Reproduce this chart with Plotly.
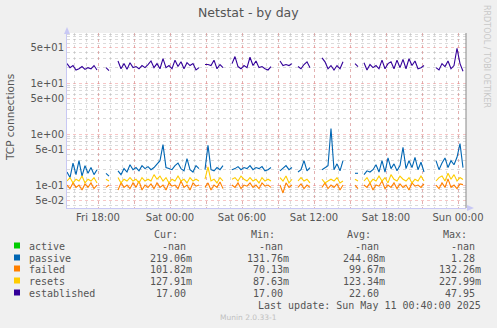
import pandas as pd
import plotly.graph_objects as go

# ---------------- data ----------------
start_time = "2025-05-09 15:25"
step = "15min"

established = [24, 20, 22, 18, 19, 21, 18.5, 20, 19, 22, 18, None, None, 20, 17.5, None, None,
               27, 19, 24, 18.5, 25, 20, 21, 19, 22, 20, 23, 27, 20, 24, 19, 30, 20, 22, 19, 28,
               21, 26, 19, 25, 22, 24, 18, 20, None, 23, 23, 22, 28, 19, 23, 20, None, None, 24,
               33, 21, 19, 22, 20, 32, 22, 27, 20, 21, 19, 18, 21, None, None, 27, 22, 23, 22, 24,
               None, 21, 19, 23, 26, 20, None, 28, None, 31, 26, 19, 22, 18, 22, 19, 26, None, 22,
               None, 24, 21, None, 25, 18, 23, 20, 22, 19, 28, 19, 24, 26, 19, 28, 20, 29, 19, 30,
               22, 27, 19, 20, 22, None, 25, None, 20, 18, 24, 21, 27, 19, 22, 48, 24, 17]

passive = [0.18, 0.14, 0.27, 0.16, 0.30, 0.15, 0.24, 0.17, 0.22, 0.16, 0.20, None, None, 0.17,
           0.15, None, None, 0.19, 0.16, 0.21, 0.18, 0.25, 0.20, 0.22, 0.19, 0.24, 0.21, 0.23,
           0.20, 0.22, 0.26, 0.30, 0.62, 0.22, 0.21, 0.20, 0.24, 0.27, 0.21, 0.19, 0.33, 0.20,
           0.18, 0.24, 0.21, None, 0.20, 0.60, 0.20, 0.19, 0.22, 0.20, 0.24, None, None, 0.20,
           0.21, 0.23, 0.20, 0.22, 0.21, 0.24, 0.20, 0.22, 0.21, 0.23, 0.19, 0.20, 0.22, None,
           None, 0.19, 0.21, 0.24, 0.20, 0.22, None, 0.18, 0.20, 0.30, 0.19, 0.22, None, 0.20,
           None, 0.20, 0.22, 0.24, 1.28, 0.20, 0.26, 0.19, 0.30, None, 0.18, None, 0.17, 0.17,
           None, 0.16, 0.19, 0.18, 0.20, 0.25, 0.18, 0.30, 0.18, 0.34, 0.21, 0.26, 0.19, 0.24,
           0.55, 0.21, 0.30, 0.22, 0.35, 0.20, 0.28, 0.18, None, 0.24, None, 0.30, 0.20, 0.27,
           0.34, 0.22, 0.30, 0.25, 0.35, 0.65, 0.22]

failed = [0.10, 0.085, 0.11, 0.09, 0.10, 0.08, 0.105, 0.09, 0.11, 0.085, 0.10, None, None, 0.09,
          0.10, None, None, 0.08, 0.11, 0.09, 0.10, 0.085, 0.11, 0.09, 0.12, 0.08, 0.10, 0.09,
          0.105, 0.085, 0.11, 0.09, 0.10, 0.08, 0.11, 0.095, 0.10, 0.085, 0.12, 0.09, 0.10, 0.08,
          0.11, 0.095, 0.10, None, 0.09, 0.11, 0.08, 0.10, 0.09, 0.115, 0.085, None, None, 0.10,
          0.09, 0.11, 0.085, 0.10, 0.095, 0.11, 0.09, 0.10, 0.085, 0.11, 0.095, 0.10, 0.09, None,
          None, 0.10, 0.07, 0.11, 0.09, 0.10, None, 0.09, 0.105, 0.085, 0.10, 0.09, None, 0.10,
          None, 0.09, 0.11, 0.085, 0.10, 0.09, 0.105, 0.08, 0.10, None, 0.09, None, 0.10, 0.085,
          None, 0.10, 0.09, 0.11, 0.08, 0.10, 0.095, 0.12, 0.085, 0.10, 0.09, 0.11, 0.085, 0.105,
          0.09, 0.10, 0.08, 0.11, 0.095, 0.10, 0.09, 0.105, None, 0.09, None, 0.10, 0.085, 0.11,
          0.09, 0.132, 0.09, 0.10, 0.085, 0.105, 0.102]

resets = [0.12, 0.14, 0.11, 0.13, 0.12, 0.15, 0.11, 0.13, 0.12, 0.14, 0.11, None, None, 0.13,
          0.12, None, None, 0.14, 0.11, 0.13, 0.12, 0.14, 0.12, 0.13, 0.11, 0.14, 0.12, 0.13,
          0.12, 0.16, 0.13, 0.15, 0.12, 0.14, 0.11, 0.13, 0.12, 0.15, 0.12, 0.13, 0.11, 0.14,
          0.12, 0.13, 0.12, None, 0.13, 0.228, 0.12, 0.13, 0.11, 0.14, 0.12, None, None, 0.13,
          0.14, 0.12, 0.15, 0.13, 0.12, 0.14, 0.12, 0.13, 0.11, 0.14, 0.12, 0.13, 0.12, None,
          None, 0.14, 0.12, 0.15, 0.11, 0.13, None, 0.12, 0.14, 0.12, 0.13, 0.11, None, 0.12,
          None, 0.13, 0.11, 0.12, 0.13, 0.12, 0.14, 0.11, 0.12, None, 0.12, None, 0.13, 0.12,
          None, 0.12, 0.14, 0.11, 0.13, 0.12, 0.15, 0.12, 0.14, 0.11, 0.16, 0.13, 0.12, 0.15,
          0.13, 0.12, 0.14, 0.11, 0.13, 0.12, 0.15, 0.12, None, 0.14, None, 0.12, 0.14, 0.15,
          0.12, 0.17, 0.13, 0.16, 0.12, 0.14, 0.128]

active = [None] * len(established)

series_names = ["active", "passive", "failed", "resets", "established"]
series_colors = ["#00CC00", "#0066B3", "#FF8000", "#FFCC00", "#330099"]
cur_vals = ["-nan", "219.06m", "101.82m", "127.91m", "17.00"]
min_vals = ["-nan", "131.76m", "70.13m", "87.63m", "17.00"]
avg_vals = ["-nan", "244.08m", "99.67m", "123.34m", "22.60"]
max_vals = ["-nan", "1.28", "132.26m", "227.99m", "47.95"]

x_tick_vals = ["2025-05-09 18:00", "2025-05-09 21:00", "2025-05-10 00:00", "2025-05-10 03:00",
               "2025-05-10 06:00", "2025-05-10 09:00", "2025-05-10 12:00", "2025-05-10 15:00",
               "2025-05-10 18:00", "2025-05-10 21:00", "2025-05-11 00:00"]
x_tick_text = ["Fri 18:00", "", "Sat 00:00", "", "Sat 06:00", "", "Sat 12:00", "",
               "Sat 18:00", "", "Sun 00:00"]
y_tick_vals = [0.05, 0.1, 0.5, 1, 5, 10, 50]
y_tick_text = ["5e-02", "1e-01", "5e-01", "1e+00", "5e+00", "1e+01", "5e+01"]
y_minor_vals = [m * d for d in (0.01, 0.1, 1, 10) for m in (2, 3, 4, 6, 7, 8, 9)]

x_range = ["2025-05-09 15:25", "2025-05-11 00:40"]
y_range_log = [-1.45, 1.98]

title_text = "Netstat - by day"
y_title = "TCP connections"
last_update = "Last update: Sun May 11 00:40:00 2025"
footer = "Munin 2.0.33-1"
side_text = "RRDTOOL / TOBI OETIKER"

# ---------------- layout geometry ----------------
W, H = 497, 328
L, R, T, B = 67, 466, 33, 208


def px(x):
    return (x - L) / (R - L)


def py(y):
    return (B - y) / (B - T)


times = pd.date_range(start_time, periods=len(established), freq=step)
series_data = [active, passive, failed, resets, established]

fig = go.Figure()
for name, color, vals in zip(series_names, series_colors, series_data):
    fig.add_trace(go.Scatter(x=times, y=vals, mode="lines", name=name,
                             line=dict(color=color, width=1.1), connectgaps=False,
                             showlegend=False))

grid_major = "rgba(235,120,120,0.42)"
grid_minor = "rgba(170,170,170,0.42)"
axis_col = "#C8C8F4"
text_col = "#555555"

fig.update_layout(
    width=W, height=H,
    margin=dict(l=L, r=W - R, t=T, b=H - B),
    paper_bgcolor="#F0F0F0", plot_bgcolor="#FFFFFF",
    font=dict(family="DejaVu Sans", size=10, color=text_col),
    showlegend=False,
)

fig.update_xaxes(
    type="date", range=x_range,
    tickmode="array", tickvals=x_tick_vals, ticktext=x_tick_text,
    showgrid=True, gridcolor=grid_major, griddash="dot", gridwidth=1,
    minor=dict(dtick=3600000, tick0="2025-05-09 16:00", showgrid=True,
               gridcolor=grid_minor, griddash="dot", gridwidth=1),
    showline=True, linecolor=axis_col, linewidth=1, zeroline=False,
    ticks="", tickfont=dict(size=10, color=text_col),
)
fig.update_yaxes(
    type="log", range=y_range_log,
    tickmode="array", tickvals=y_tick_vals, ticktext=y_tick_text,
    showgrid=True, gridcolor=grid_major, griddash="dot", gridwidth=1,
    minor=dict(tickmode="array", tickvals=y_minor_vals, showgrid=True,
               gridcolor=grid_minor, griddash="dot", gridwidth=1),
    showline=True, linecolor=axis_col, linewidth=1, zeroline=False,
    ticks="", tickfont=dict(size=10, color=text_col),
)

shapes = []
# right frame line
shapes.append(dict(type="line", xref="paper", yref="paper", x0=px(466), x1=px(466),
                   y0=py(33), y1=py(208), line=dict(color="#888888", width=1)))
# axis arrows
shapes.append(dict(type="path", xref="paper", yref="paper",
                   path=f"M {px(64)} {py(34)} L {px(70)} {py(34)} L {px(67)} {py(27)} Z",
                   fillcolor=axis_col, line=dict(width=0)))
shapes.append(dict(type="path", xref="paper", yref="paper",
                   path=f"M {px(467)} {py(205)} L {px(467)} {py(211)} L {px(474)} {py(208)} Z",
                   fillcolor=axis_col, line=dict(width=0)))

ann = []
ann.append(dict(text=title_text, x=px(248), y=py(13), xref="paper", yref="paper",
                showarrow=False, xanchor="center", yanchor="middle",
                font=dict(size=12.5, color=text_col)))
ann.append(dict(text=y_title, x=px(10), y=py(118), xref="paper", yref="paper",
                showarrow=False, textangle=-90, xanchor="center", yanchor="middle",
                font=dict(size=10.5, color=text_col)))
ann.append(dict(text=side_text, x=px(487), y=py(56), xref="paper", yref="paper",
                showarrow=False, textangle=90, xanchor="center", yanchor="middle",
                font=dict(size=8, color="#C8C8C8")))

mono = dict(family="DejaVu Sans Mono", size=10, color=text_col)
header_x = [180, 277, 373, 469]
col_x = [194, 291, 387, 483]
for hx, htxt in zip(header_x, ["Cur:", "Min:", "Avg:", "Max:"]):
    ann.append(dict(text=htxt, x=px(hx), y=py(234), xref="paper", yref="paper",
                    showarrow=False, xanchor="right", yanchor="middle", font=mono))

row_y = [246, 258, 269, 281, 293]
for i, name in enumerate(series_names):
    yy = row_y[i]
    shapes.append(dict(type="rect", xref="paper", yref="paper",
                       x0=px(14), x1=px(20), y0=py(yy - 3.5), y1=py(yy + 2.5),
                       fillcolor=series_colors[i], line=dict(width=0)))
    ann.append(dict(text=name, x=px(27), y=py(yy), xref="paper", yref="paper",
                    showarrow=False, xanchor="left", yanchor="middle", font=mono))
    for cx, vals in zip(col_x, [cur_vals, min_vals, avg_vals, max_vals]):
        v = vals[i]
        if not v.endswith("m"):
            v = v + "\u00a0"
        ann.append(dict(text=v, x=px(cx), y=py(yy), xref="paper", yref="paper",
                        showarrow=False, xanchor="right", yanchor="middle", font=mono))

ann.append(dict(text=last_update, x=px(483), y=py(305), xref="paper", yref="paper",
                showarrow=False, xanchor="right", yanchor="middle", font=mono))
ann.append(dict(text=footer, x=px(248), y=py(317), xref="paper", yref="paper",
                showarrow=False, xanchor="center", yanchor="middle",
                font=dict(family="DejaVu Sans", size=7.5, color="#C0C0C0")))

fig.update_layout(shapes=shapes, annotations=ann)

fig.write_html("out.html")
